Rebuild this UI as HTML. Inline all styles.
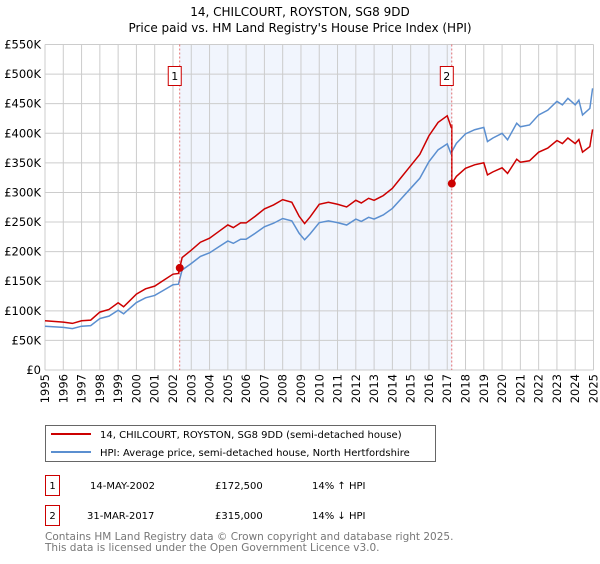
<!DOCTYPE html>
<html><head><meta charset="utf-8"><style>
body{margin:0;background:#fff;font-family:"DejaVu Sans","Liberation Sans",sans-serif;}
svg text{font-family:"DejaVu Sans","Liberation Sans",sans-serif;}
</style></head><body>
<svg id="c" width="600" height="560" xmlns="http://www.w3.org/2000/svg">
<text x="300" y="16" text-anchor="middle" font-size="12">14, CHILCOURT, ROYSTON, SG8 9DD</text>
<text x="300" y="32" text-anchor="middle" font-size="12">Price paid vs. HM Land Registry's House Price Index (HPI)</text>
<g id="grid"></g><g id="lines"></g>
<g>
<rect x="45.5" y="425.5" width="390" height="36" fill="#fff" stroke="#666"/>
<line x1="51" y1="434" x2="91" y2="434" stroke="#cc0000" stroke-width="2"/>
<text x="100" y="438" font-size="10">14, CHILCOURT, ROYSTON, SG8 9DD (semi-detached house)</text>
<line x1="51" y1="452" x2="91" y2="452" stroke="#5b8fd0" stroke-width="2"/>
<text x="100" y="456" font-size="10">HPI: Average price, semi-detached house, North Hertfordshire</text>
</g>
<g font-size="10">
<rect x="45.5" y="475.5" width="14" height="20" fill="none" stroke="#cc0000"/><text x="52.5" y="489" text-anchor="middle">1</text>
<text x="90" y="489">14-MAY-2002</text><text x="215" y="489">£172,500</text><text x="312" y="489">14% ↑ HPI</text>
<rect x="45.5" y="505.5" width="14" height="20" fill="none" stroke="#cc0000"/><text x="52.5" y="519" text-anchor="middle">2</text>
<text x="87" y="519">31-MAR-2017</text><text x="215" y="519">£315,000</text><text x="312" y="519">14% ↓ HPI</text>
</g>
<text x="45" y="540" font-size="10.5" fill="#777">Contains HM Land Registry data © Crown copyright and database right 2025.</text>
<text x="45" y="551" font-size="10.5" fill="#777">This data is licensed under the Open Government Licence v3.0.</text>
</svg>
<script>
const hpiYears=[1995,1996,1996.5,1997,1997.5,1998,1998.5,1999,1999.3,2000,2000.5,2001,2001.5,2002,2002.3,2002.5,2003,2003.5,2004,2004.5,2005,2005.3,2005.7,2006,2006.5,2007,2007.5,2008,2008.5,2008.9,2009.2,2009.5,2010,2010.5,2011,2011.5,2012,2012.3,2012.7,2013,2013.5,2014,2014.5,2015,2015.5,2016,2016.5,2017,2017.2,2017.5,2018,2018.5,2019,2019.2,2019.5,2020,2020.3,2020.8,2021,2021.5,2022,2022.5,2023,2023.3,2023.6,2024,2024.2,2024.4,2024.8,2024.95];
const hpiValues=[74,72,70,74,75,87,91,101,95,114,122,126,135,144,145,169,180,192,198,208,218,214,221,221,231,242,248,256,252,231,220,230,249,252,249,245,255,251,258,255,262,273,290,307,324,352,372,382,366,383,399,406,410,386,392,400,389,417,411,414,431,439,454,448,459,448,456,431,442,476];
const saleDates=[2002.37,2017.25];
const salePrices=[172.5,315];
const yTicks=[0,50,100,150,200,250,300,350,400,450,500,550];
const xYears=[1995,1996,1997,1998,1999,2000,2001,2002,2003,2004,2005,2006,2007,2008,2009,2010,2011,2012,2013,2014,2015,2016,2017,2018,2019,2020,2021,2022,2023,2024,2025];
const NS="http://www.w3.org/2000/svg";
const X=t=>45+(t-1995)*(548.5/30), Y=v=>370-v*(325.5/550);
function mk(tag,a,p){const e=document.createElementNS(NS,tag);for(const k in a)e.setAttribute(k,a[k]);p.appendChild(e);return e;}
const g=document.getElementById('grid'), L=document.getElementById('lines');
let sh=mk('rect',{x:X(saleDates[0]),y:Y(550),width:X(saleDates[1])-X(saleDates[0]),height:Y(0)-Y(550),fill:'#eef3fc',opacity:0.8},g);


yTicks.forEach(v=>{let l=mk('line',{x1:45,x2:593.5,y1:Y(v),y2:Y(v),stroke:'#ccc'},g);


let t=mk('text',{x:41,y:Y(v)+4,'text-anchor':'end','font-size':11.5},g);t.textContent='£'+(v?v+'K':'0');

});
xYears.forEach(y=>{let l=mk('line',{x1:X(y),x2:X(y),y1:Y(550),y2:Y(0),stroke:'#ccc'},g);


let t=mk('text',{x:0,y:0,'text-anchor':'end','font-size':11.5,transform:`translate(${X(y)+4},374) rotate(-90)`},g);t.textContent=y;

});
function hpiAt(t){for(let i=1;i<hpiYears.length;i++)if(t<=hpiYears[i]){const f=(t-hpiYears[i-1])/(hpiYears[i]-hpiYears[i-1]);return hpiValues[i-1]+f*(hpiValues[i]-hpiValues[i-1]);}return hpiValues[hpiValues.length-1];}
let hp=hpiYears.map((t,i)=>X(t)+','+Y(hpiValues[i])).join(' ');
let hl=mk('polyline',{points:hp,fill:'none',stroke:'#5b8fd0','stroke-width':1.5},L);


const r1=salePrices[0]/hpiAt(saleDates[0]), r2=salePrices[1]/hpiAt(saleDates[1]);
let pts=[];
hpiYears.forEach((t,i)=>{if(t<saleDates[1])pts.push([t,hpiValues[i]*r1]);});
pts.push([saleDates[1],hpiAt(saleDates[1])*r1]);pts.push([saleDates[1],salePrices[1]]);
hpiYears.forEach((t,i)=>{if(t>saleDates[1])pts.push([t,hpiValues[i]*r2]);});
let rl=mk('polyline',{points:pts.map(p=>X(p[0])+','+Y(p[1])).join(' '),fill:'none',stroke:'#cc0000','stroke-width':1.5},L);


saleDates.forEach((d,i)=>{
let v=mk('line',{x1:X(d),x2:X(d),y1:Y(550),y2:Y(0),stroke:'#e05050','stroke-dasharray':'2,2','stroke-width':0.8},L);


let c=mk('circle',{cx:X(d),cy:Y(salePrices[i]),r:4,fill:'#cc0000'},L);


let b=mk('rect',{x:X(d)-11.5,y:66.5,width:13,height:19,fill:'#fff',stroke:'#cc0000'},L);


let t=mk('text',{x:X(d)-5,y:80,'text-anchor':'middle','font-size':11},L);t.textContent=i+1;

});
</script>
</body></html>
